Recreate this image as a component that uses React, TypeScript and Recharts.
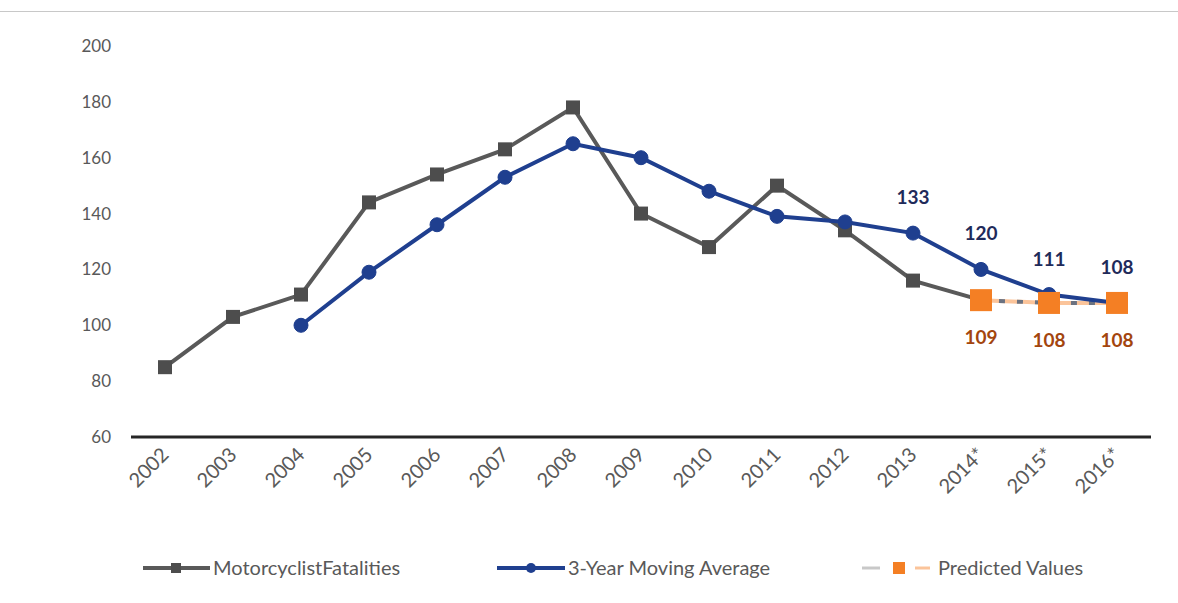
import React from "react";
import {
  LineChart,
  Line,
  XAxis,
  YAxis,
  Legend,
  LabelList,
} from "recharts";

// values
const years = ["2002", "2003", "2004", "2005", "2006", "2007", "2008", "2009", "2010", "2011", "2012", "2013", "2014*", "2015*", "2016*"];
const fatalities = [85, 103, 111, 144, 154, 163, 178, 140, 128, 150, 134, 116, 109, null, null];
const movingAvg = [null, null, 100, 119, 136, 153, 165, 160, 148, 139, 137, 133, 120, 111, 108];
const predicted = [null, null, null, null, null, null, null, null, null, null, null, null, 109, 108, 108];
const yTicks = [60, 80, 100, 120, 140, 160, 180, 200];

const data = years.map((year, i) => ({
  year,
  fatalities: fatalities[i],
  movingAvg: movingAvg[i],
  predicted: predicted[i],
}));

const FONT = "Lato, 'Open Sans', sans-serif";
const GRAY = "#595959";
const BLUE = "#1f3f8f";
const ORANGE = "#f47f24";

const SquareDot = ({ cx, cy, size, fill }: any) => {
  if (cx == null || cy == null) return null;
  return <rect x={cx - size / 2} y={cy - size / 2} width={size} height={size} fill={fill} />;
};

const XTick = ({ x, y, payload }: any) => (
  <text
    transform={`translate(${x + 5},${y + 11}) rotate(-45)`}
    textAnchor="end"
    fill={GRAY}
    fontSize={20}
    fontFamily={FONT}
  >
    {payload.value}
  </text>
);

const avgLabel = ({ x, y, value, index }: any) => {
  if (index < 11 || value == null) return null;
  return (
    <text x={x} y={y - 29} textAnchor="middle" fill="#1f2a5a" fontSize={19} fontWeight="bold" fontFamily={FONT}>
      {value}
    </text>
  );
};

const predLabel = ({ x, y, value }: any) => {
  if (value == null) return null;
  return (
    <text x={x} y={y + 44} textAnchor="middle" fill="#a3450e" fontSize={19} fontWeight="bold" fontFamily={FONT}>
      {value}
    </text>
  );
};

const renderLegend = () => (
  <svg width={1178} height={30} style={{ display: "block" }}>
    <g fontFamily={FONT} fontSize={20} fill={GRAY}>
      <line x1={143} x2={210} y1={15} y2={15} stroke={GRAY} strokeWidth={4} />
      <rect x={171} y={10} width={10} height={10} fill="#4d4d4d" />
      <text x={213} y={22}>MotorcyclistFatalities</text>

      <line x1={497} x2={565} y1={15} y2={15} stroke={BLUE} strokeWidth={4} />
      <circle cx={531} cy={15} r={5} fill={BLUE} />
      <text x={568} y={22}>3-Year Moving Average</text>

      <line x1={862} x2={880} y1={15} y2={15} stroke="#c8c8c8" strokeWidth={3} />
      <rect x={893} y={9} width={12} height={12} fill={ORANGE} />
      <line x1={915} x2={930} y1={15} y2={15} stroke="#fbc49a" strokeWidth={3} />
      <text x={938} y={22}>Predicted Values</text>
    </g>
  </svg>
);

export default function App() {
  return (
    <div style={{ position: "absolute", left: 0, top: 0, width: 1178, height: 603, background: "#fff" }}>
      <div style={{ position: "absolute", left: 0, top: 11, width: 1178, height: 1, background: "#c8c8c8" }} />
      <LineChart
        width={1178}
        height={603}
        data={data}
        margin={{ top: 46, right: 27, bottom: 76, left: 0 }}
      >
        <XAxis
          dataKey="year"
          interval={0}
          height={60}
          padding={{ left: 34, right: 34 }}
          axisLine={{ stroke: "#262626", strokeWidth: 3 }}
          tickLine={false}
          tick={<XTick />}
        />
        <YAxis
          width={131}
          domain={[60, 200]}
          ticks={yTicks}
          axisLine={false}
          tickLine={false}
          tickSize={0}
          tickMargin={20}
          tick={{ fill: GRAY, fontSize: 17, fontFamily: FONT }}
        />
        <Legend
          verticalAlign="bottom"
          height={30}
          content={renderLegend}
          wrapperStyle={{ position: "absolute", left: 0, top: 553, width: 1178 }}
        />
        <Line
          dataKey="fatalities"
          name="MotorcyclistFatalities"
          stroke={GRAY}
          strokeWidth={4}
          dot={<SquareDot size={14} fill="#4d4d4d" />}
          activeDot={false}
          isAnimationActive={false}
        />
        <Line
          dataKey="predicted"
          name="Predicted Values peach"
          stroke="#fbc49a"
          strokeWidth={4}
          dot={false}
          activeDot={false}
          legendType="none"
          isAnimationActive={false}
        />
        <Line
          dataKey="predicted"
          name="Predicted Values gray"
          stroke="#6b7280"
          strokeWidth={4}
          strokeDasharray="6 12"
          dot={false}
          activeDot={false}
          legendType="none"
          isAnimationActive={false}
        />
        <Line
          dataKey="movingAvg"
          name="3-Year Moving Average"
          stroke={BLUE}
          strokeWidth={4}
          dot={{ r: 7, fill: BLUE, stroke: BLUE, strokeWidth: 1 }}
          activeDot={false}
          isAnimationActive={false}
        >
          <LabelList dataKey="movingAvg" content={avgLabel} />
        </Line>
        <Line
          dataKey="predicted"
          name="Predicted Values"
          stroke="none"
          dot={<SquareDot size={22} fill={ORANGE} />}
          activeDot={false}
          isAnimationActive={false}
        >
          <LabelList dataKey="predicted" content={predLabel} />
        </Line>
      </LineChart>
    </div>
  );
}
